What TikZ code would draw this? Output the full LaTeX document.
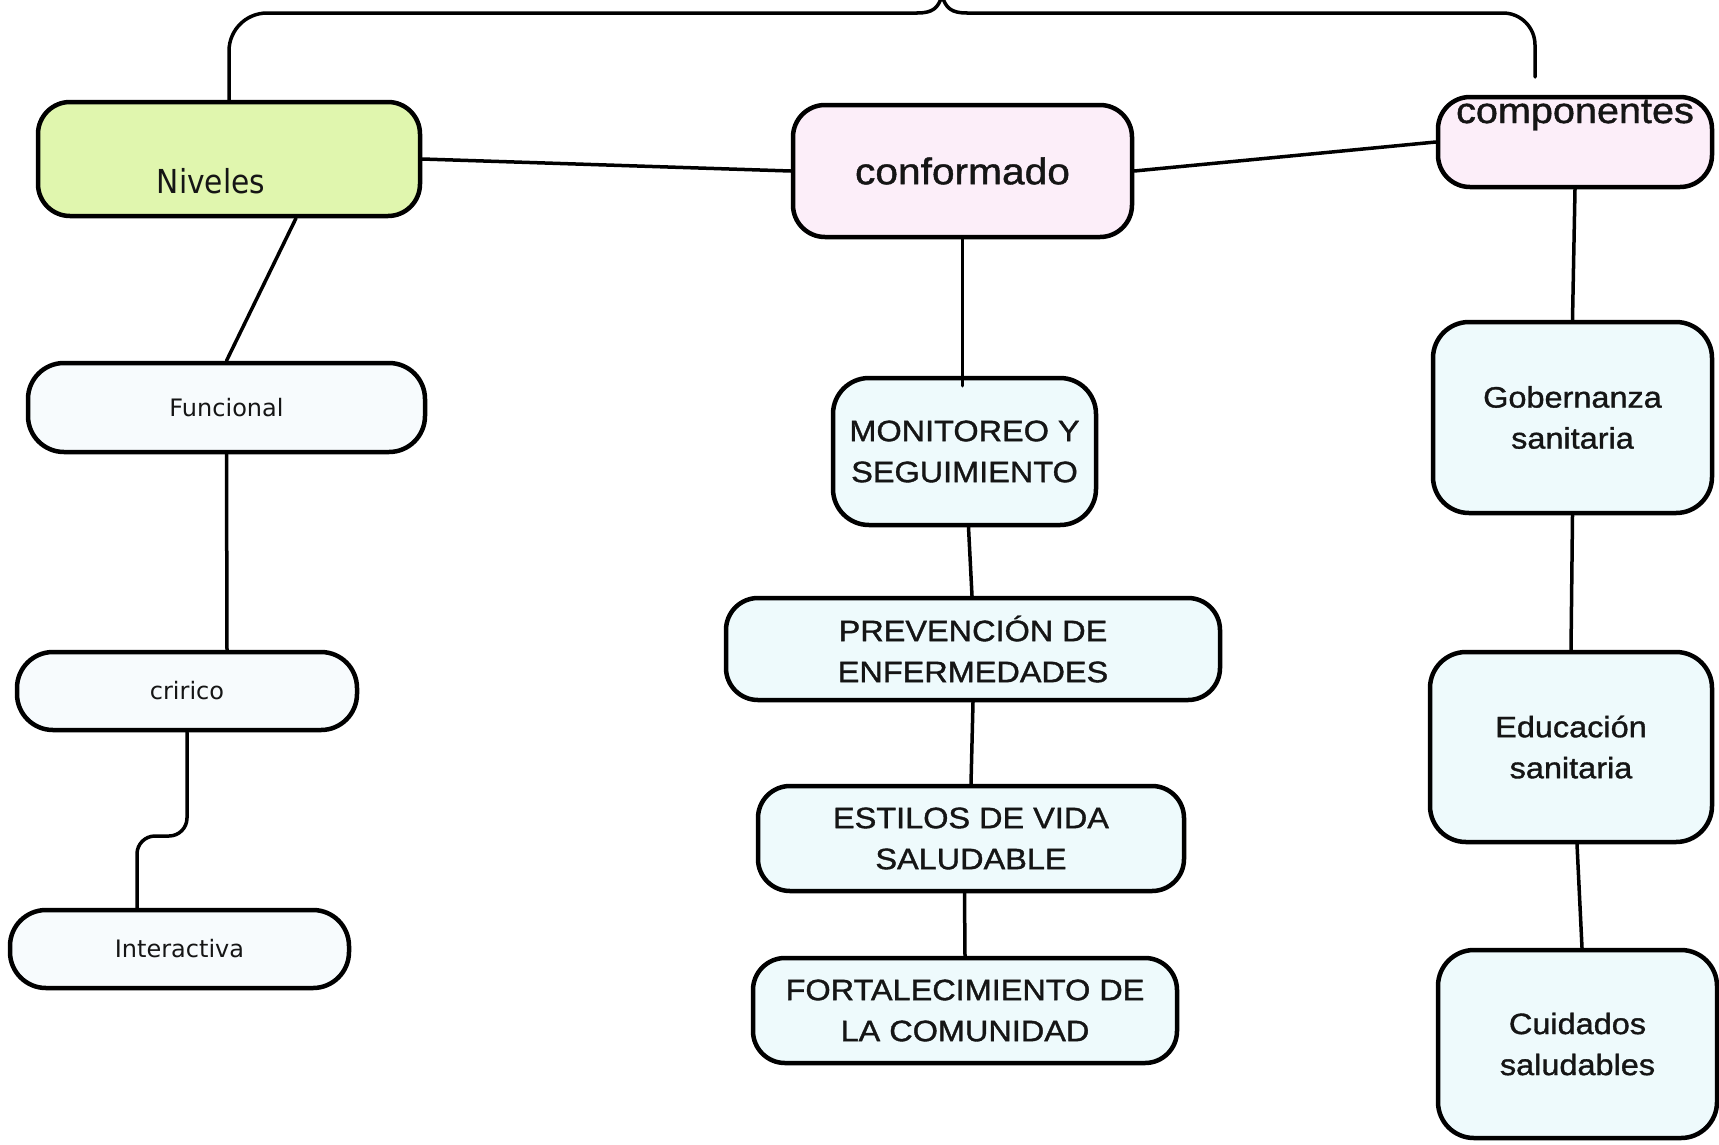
\documentclass[tikz,border=0pt]{standalone}
\usepackage{fontspec}
\setmainfont{Liberation Sans}
\newfontfamily\arialx[FakeStretch=1.1,FakeBold=1.2]{Liberation Sans}
\newfontfamily\dejacond[FakeStretch=0.9]{DejaVu Sans}
\newfontfamily\deja{DejaVu Sans}
\definecolor{nivgreen}{HTML}{E0F6AE}
\definecolor{confpink}{HTML}{FCEEF9}
\definecolor{leafcyan}{HTML}{EEFAFC}
\definecolor{lvlwhite}{HTML}{F7FBFD}
\definecolor{txtdark}{HTML}{151515}
\begin{document}
\begin{tikzpicture}[x=1pt,y=-1pt,
  cbox/.style={draw=black, line width=4.5pt, rounded corners=32pt, inner sep=0pt, align=center, text=txtdark},
  conn/.style={draw=black, line width=3.5pt, line cap=round},
  leaf/.style={cbox, fill=leafcyan, font=\arialx\fontsize{29.5}{41}\selectfont},
  lvl/.style={cbox, fill=lvlwhite, rounded corners=36pt, font=\deja\fontsize{24}{28}\selectfont},
]
\useasboundingbox[fill=white] (0,0) rectangle (1719,1144);

% left column
\node[cbox, fill=nivgreen, minimum width=382pt, minimum height=114pt] (niv) at (229,159) {};
\node[anchor=base, font=\dejacond\fontsize{33}{38}\selectfont, text=txtdark] (nivT) at (211,193) {Niveles};
\node[lvl, minimum width=397pt, minimum height=89pt] (fun) at (226.5,407.5) {Funcional};
\node[lvl, minimum width=340pt, minimum height=78pt] (cri) at (187,691) {cririco};
\node[lvl, minimum width=339pt, minimum height=78pt] (int) at (179.5,949) {Interactiva};

% middle column
\node[cbox, fill=confpink, minimum width=339pt, minimum height=132pt, font=\arialx\fontsize{37}{44}\selectfont] (conf) at (962.5,171) {conformado};
\node[leaf, minimum width=263pt, minimum height=147pt, rounded corners=36pt] (mon) at (964.5,451.5) {MONITOREO Y\\SEGUIMIENTO};
\node[leaf, minimum width=494pt, minimum height=102pt] (prev) at (973,649) {PREVENCIÓN DE\\ENFERMEDADES};
\node[leaf, minimum width=426pt, minimum height=105pt] (est) at (971,838.5) {ESTILOS DE VIDA\\SALUDABLE};
\node[leaf, minimum width=424pt, minimum height=105pt] (fort) at (965,1010.5) {FORTALECIMIENTO DE\\LA COMUNIDAD};

% right column
\node[cbox, fill=confpink, minimum width=274pt, minimum height=90pt] (comp) at (1575,142) {};
\node[anchor=base, font=\arialx\fontsize{36}{40}\selectfont, text=txtdark] (compT) at (1575,123) {componentes};
\node[leaf, minimum width=279pt, minimum height=191pt, rounded corners=36pt] (gob) at (1572.5,417.5) {Gobernanza\\sanitaria};
\node[leaf, minimum width=282pt, minimum height=190pt, rounded corners=36pt] (edu) at (1571,747) {Educación\\sanitaria};
\node[leaf, minimum width=279pt, minimum height=188pt, rounded corners=36pt] (cui) at (1577.5,1044) {Cuidados\\saludables};

% connectors
\draw[conn] (niv.east) -- (conf.west);
\draw[conn] (conf.east) -- (comp.west);
\draw[conn] ([xshift=67pt]niv.south) -- (fun.north);
\draw[conn] (fun.south) -- ([xshift=40pt]cri.north);
\coordinate (k1) at (187,836);
\coordinate (k2) at (137,836);
\draw[conn, rounded corners=18pt] (cri.south) -- (k1) -- (k2) -- ([xshift=-42.5pt]int.north);
\draw[conn] (conf.south) -- ([xshift=-2pt,yshift=-10pt]mon.north);
\draw[conn] ([xshift=4pt]mon.south) -- ([xshift=-1pt]prev.north);
\draw[conn] (prev.south) -- (est.north);
\draw[conn] ([xshift=-6.5pt]est.south) -- (fort.north);
\draw[conn] (comp.south) -- (gob.north);
\draw[conn] (gob.south) -- (edu.north);
\draw[conn] ([xshift=6pt]edu.south) -- ([xshift=4.5pt]cui.north);

% top bracket
\coordinate (bl) at (229,13);
\coordinate (bm1) at (917,13);
\coordinate (tip) at (942,-4);
\coordinate (bm2) at (967,13);
\coordinate (br) at (1535,13);
\coordinate (bend) at (1535,77);
\draw[conn, rounded corners=38pt] (niv.north) -- (bl) -- (bm1);
\draw[conn] (bm1) .. controls (933,13) and (938,8) .. (tip) .. controls (946,8) and (951,13) .. (bm2);
\draw[conn, rounded corners=32pt] (bm2) -- (br) -- (bend);
\end{tikzpicture}
\end{document}
